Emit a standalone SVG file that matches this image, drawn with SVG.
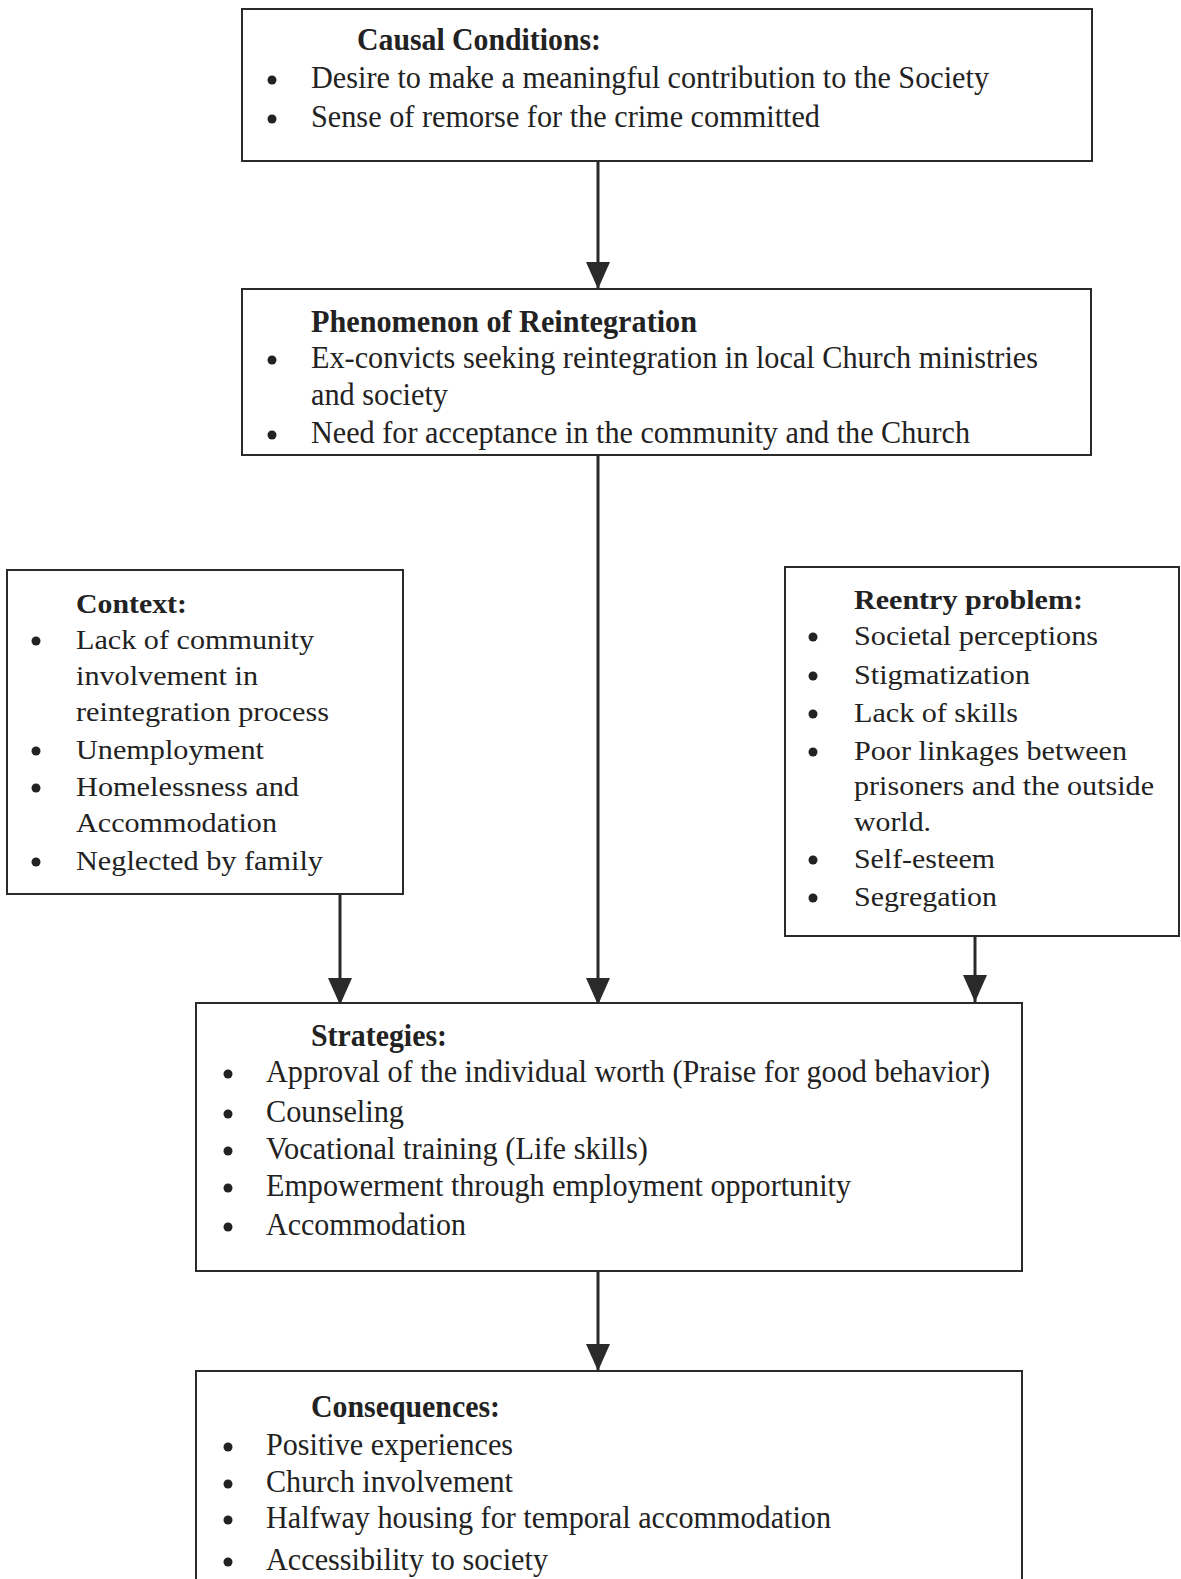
<svg xmlns="http://www.w3.org/2000/svg" width="1181" height="1579" viewBox="0 0 1181 1579">
<style>
.box{fill:#fff;stroke:#2a2a2a;stroke-width:2}
.t{font-family:"Liberation Serif","Times New Roman",serif;font-size:31px;fill:#222}
.s{font-family:"Liberation Serif","Times New Roman",serif;font-size:27px;fill:#222}
.b{font-weight:bold}
.dot{fill:#222}
.conn{stroke:#2a2a2a;stroke-width:3;fill:none}
</style>
<defs>
<marker id="ah" markerUnits="userSpaceOnUse" markerWidth="27" markerHeight="24" refX="27" refY="12" orient="auto" viewBox="0 0 27 24">
<path d="M0,0 L27,12 L0,24 Z" fill="#2a2a2a"/>
</marker>
</defs>
<rect width="1181" height="1579" fill="#fff"/>

<g id="connectors">
<path class="conn" d="M598,161 V289" marker-end="url(#ah)"/>
<path class="conn" d="M598,455 V1005" marker-end="url(#ah)"/>
<path class="conn" d="M340,894 V1005" marker-end="url(#ah)"/>
<path class="conn" d="M975,936 V1002" marker-end="url(#ah)"/>
<path class="conn" d="M598,1271 V1371" marker-end="url(#ah)"/>
</g>

<g id="causal">
<rect class="box" x="242" y="9" width="850" height="152"/>
<text class="t b" x="357" y="50" textLength="244" lengthAdjust="spacingAndGlyphs">Causal Conditions:</text>
<circle class="dot" cx="272" cy="80" r="4.5"/>
<text class="t" x="311" y="88" textLength="678" lengthAdjust="spacingAndGlyphs">Desire to make a meaningful contribution to the Society</text>
<circle class="dot" cx="272" cy="119" r="4.5"/>
<text class="t" x="311" y="127" textLength="509" lengthAdjust="spacingAndGlyphs">Sense of remorse for the crime committed</text>
</g>

<g id="phenomenon">
<rect class="box" x="242" y="289" width="849" height="166"/>
<text class="t b" x="311" y="332" textLength="386" lengthAdjust="spacingAndGlyphs">Phenomenon of Reintegration</text>
<circle class="dot" cx="272" cy="360" r="4.5"/>
<text class="t" x="311" y="368" textLength="727" lengthAdjust="spacingAndGlyphs">Ex-convicts seeking reintegration in local Church ministries</text>
<text class="t" x="311" y="405" textLength="137" lengthAdjust="spacingAndGlyphs">and society</text>
<circle class="dot" cx="272" cy="435" r="4.5"/>
<text class="t" x="311" y="443" textLength="659" lengthAdjust="spacingAndGlyphs">Need for acceptance in the community and the Church</text>
</g>

<g id="context">
<rect class="box" x="7" y="570" width="396" height="324"/>
<text class="s b" x="76" y="613" textLength="111" lengthAdjust="spacingAndGlyphs">Context:</text>
<circle class="dot" cx="36" cy="641" r="4.5"/>
<text class="s" x="76" y="649" textLength="238" lengthAdjust="spacingAndGlyphs">Lack of community</text>
<text class="s" x="76" y="685" textLength="182" lengthAdjust="spacingAndGlyphs">involvement in</text>
<text class="s" x="76" y="721" textLength="253" lengthAdjust="spacingAndGlyphs">reintegration process</text>
<circle class="dot" cx="36" cy="751" r="4.5"/>
<text class="s" x="76" y="759" textLength="188" lengthAdjust="spacingAndGlyphs">Unemployment</text>
<circle class="dot" cx="36" cy="788" r="4.5"/>
<text class="s" x="76" y="796" textLength="223" lengthAdjust="spacingAndGlyphs">Homelessness and</text>
<text class="s" x="76" y="832" textLength="201" lengthAdjust="spacingAndGlyphs">Accommodation</text>
<circle class="dot" cx="36" cy="862" r="4.5"/>
<text class="s" x="76" y="870" textLength="247" lengthAdjust="spacingAndGlyphs">Neglected by family</text>
</g>

<g id="reentry">
<rect class="box" x="785" y="567" width="394" height="369"/>
<text class="s b" x="854" y="609" textLength="229" lengthAdjust="spacingAndGlyphs">Reentry problem:</text>
<circle class="dot" cx="813" cy="637" r="4.5"/>
<text class="s" x="854" y="645" textLength="244" lengthAdjust="spacingAndGlyphs">Societal perceptions</text>
<circle class="dot" cx="813" cy="676" r="4.5"/>
<text class="s" x="854" y="684" textLength="176" lengthAdjust="spacingAndGlyphs">Stigmatization</text>
<circle class="dot" cx="813" cy="714" r="4.5"/>
<text class="s" x="854" y="722" textLength="164" lengthAdjust="spacingAndGlyphs">Lack of skills</text>
<circle class="dot" cx="813" cy="752" r="4.5"/>
<text class="s" x="854" y="760" textLength="273" lengthAdjust="spacingAndGlyphs">Poor linkages between</text>
<text class="s" x="854" y="795" textLength="300" lengthAdjust="spacingAndGlyphs">prisoners and the outside</text>
<text class="s" x="854" y="831" textLength="77" lengthAdjust="spacingAndGlyphs">world.</text>
<circle class="dot" cx="813" cy="860" r="4.5"/>
<text class="s" x="854" y="868" textLength="141" lengthAdjust="spacingAndGlyphs">Self-esteem</text>
<circle class="dot" cx="813" cy="898" r="4.5"/>
<text class="s" x="854" y="906" textLength="143" lengthAdjust="spacingAndGlyphs">Segregation</text>
</g>

<g id="strategies">
<rect class="box" x="196" y="1003" width="826" height="268"/>
<text class="t b" x="311" y="1046" textLength="136" lengthAdjust="spacingAndGlyphs">Strategies:</text>
<circle class="dot" cx="228" cy="1074" r="4.5"/>
<text class="t" x="266" y="1082" textLength="724" lengthAdjust="spacingAndGlyphs">Approval of the individual worth (Praise for good behavior)</text>
<circle class="dot" cx="228" cy="1114" r="4.5"/>
<text class="t" x="266" y="1122" textLength="138" lengthAdjust="spacingAndGlyphs">Counseling</text>
<circle class="dot" cx="228" cy="1151" r="4.5"/>
<text class="t" x="266" y="1159" textLength="382" lengthAdjust="spacingAndGlyphs">Vocational training (Life skills)</text>
<circle class="dot" cx="228" cy="1188" r="4.5"/>
<text class="t" x="266" y="1196" textLength="585" lengthAdjust="spacingAndGlyphs">Empowerment through employment opportunity</text>
<circle class="dot" cx="228" cy="1227" r="4.5"/>
<text class="t" x="266" y="1235" textLength="200" lengthAdjust="spacingAndGlyphs">Accommodation</text>
</g>

<g id="consequences">
<rect class="box" x="196" y="1371" width="826" height="230"/>
<text class="t b" x="311" y="1417" textLength="189" lengthAdjust="spacingAndGlyphs">Consequences:</text>
<circle class="dot" cx="228" cy="1447" r="4.5"/>
<text class="t" x="266" y="1455" textLength="247" lengthAdjust="spacingAndGlyphs">Positive experiences</text>
<circle class="dot" cx="228" cy="1484" r="4.5"/>
<text class="t" x="266" y="1492" textLength="247" lengthAdjust="spacingAndGlyphs">Church involvement</text>
<circle class="dot" cx="228" cy="1520" r="4.5"/>
<text class="t" x="266" y="1528" textLength="565" lengthAdjust="spacingAndGlyphs">Halfway housing for temporal accommodation</text>
<circle class="dot" cx="228" cy="1562" r="4.5"/>
<text class="t" x="266" y="1570" textLength="282" lengthAdjust="spacingAndGlyphs">Accessibility to society</text>
</g>
</svg>
